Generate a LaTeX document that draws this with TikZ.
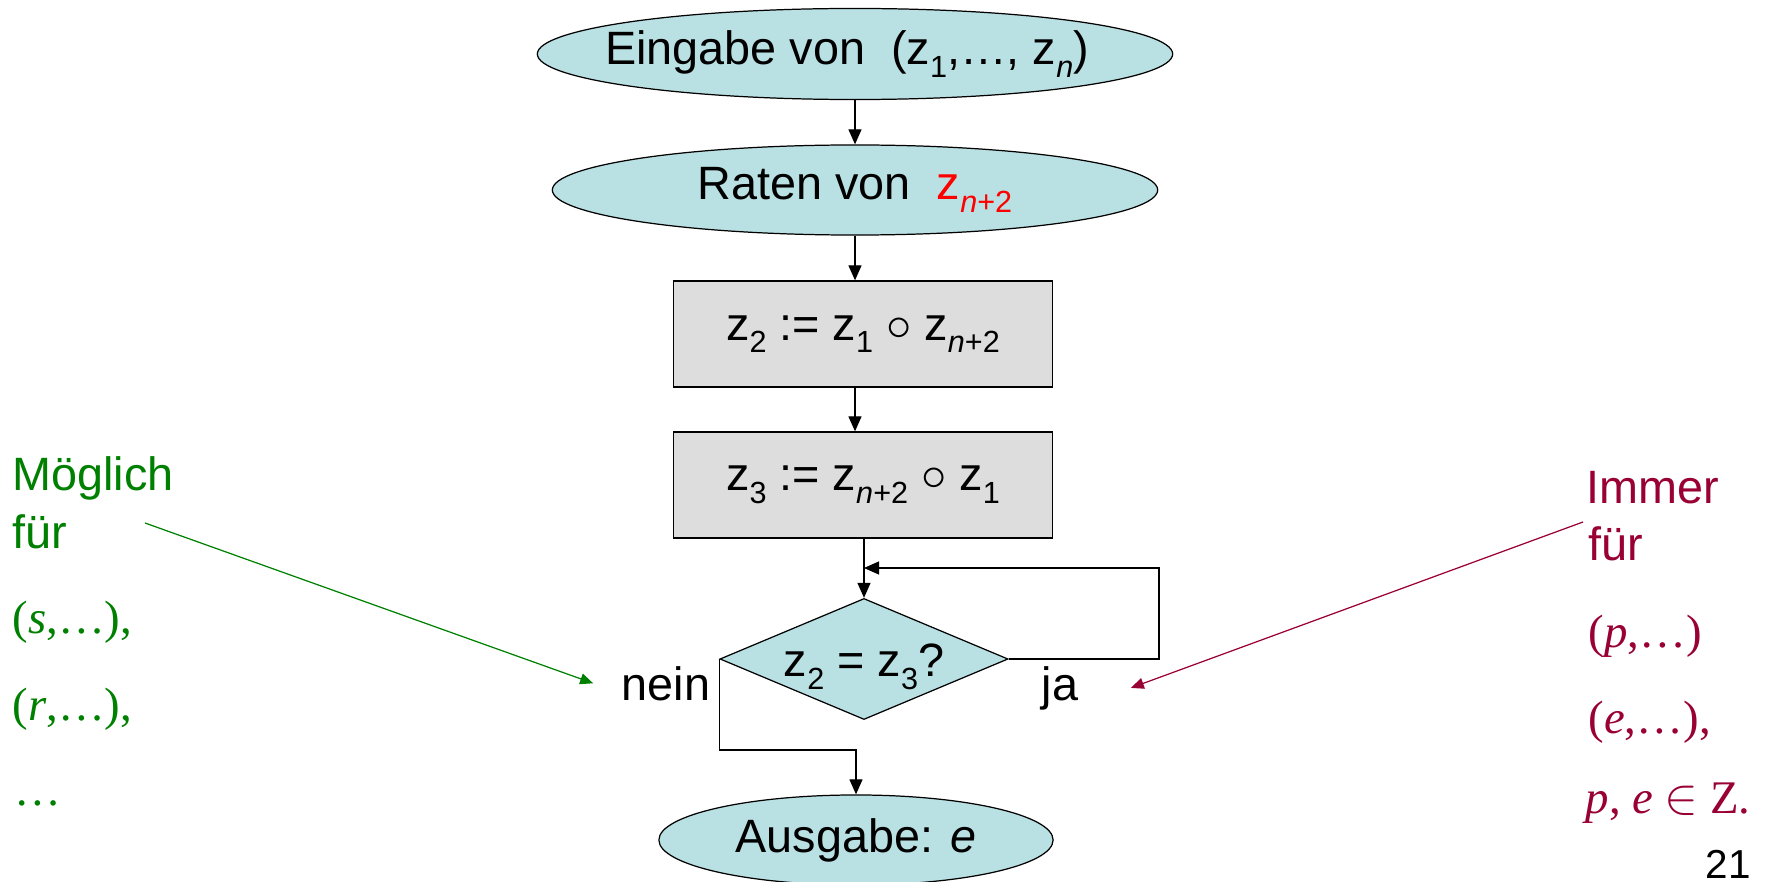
\documentclass[tikz,border=0pt]{standalone}
\usepackage{fontspec}
\setmainfont{Liberation Sans}
\newfontfamily\tms{Liberation Serif}
\usepackage{xcolor}
\usepackage{tikz}
\usetikzlibrary{shapes.geometric,arrows.meta}

\definecolor{flowblue}{RGB}{185,224,227}
\definecolor{flowgray}{RGB}{221,221,221}
\definecolor{maybegreen}{RGB}{0,128,0}
\definecolor{alwaysred}{RGB}{153,0,51}

% tiefgestellter Index
\newcommand{\idx}[1]{\raisebox{-0.27em}{\fontsize{8.7}{9}\selectfont #1}}

\begin{document}
\begin{tikzpicture}[x=0.01cm,y=-0.01cm,line width=0.35pt,
  font=\fontsize{13.3}{16}\selectfont,
  >={Triangle[length=0.15cm,width=0.13cm]},
  io/.style={draw,fill=flowblue,ellipse,inner sep=0pt},
  proc/.style={draw,fill=flowgray,rectangle,inner sep=0pt,minimum width=3.79cm,minimum height=1.06cm},
  decision/.style={draw,fill=flowblue,diamond,inner sep=0pt,minimum width=2.88cm,minimum height=1.21cm},
  txt/.style={inner sep=0pt,anchor=base west},
  hint/.style={->,>={Triangle[length=0.13cm,width=0.11cm]}}]
  \useasboundingbox (0,0) rectangle (1778,882);

  % Ablauf
  \node[io,minimum width=6.35cm,minimum height=0.91cm,
    label={[xshift=-0.08cm]center:{Eingabe von\ \ (z\idx{1},…, z\idx{\textit{n}})}}] (in) at (855,54) {};
  \node[io,minimum width=6.05cm,minimum height=0.9cm,
    label={center:{Raten von\ \ {\color{red}z\idx{\textit{n}+2}}}}] (guess) at (855,190) {};
  \node[proc] (mix) at (863,334) {z\idx{2} := z\idx{1} $\circ$ z\idx{\textit{n}+2}};
  \node[proc] (mixback) at (863,485) {z\idx{3} := z\idx{\textit{n}+2} $\circ$ z\idx{1}};
  \node[decision,label={[yshift=-0.08cm]center:{z\idx{2} = z\idx{3}?}}] (cmp) at (864,659) {};
  \node[io,minimum width=3.94cm,minimum height=0.9cm,
    label={center:{Ausgabe: \textit{e}}}] (out) at (856,840) {};

  \node[anchor=base,inner sep=0pt] (no) at (666,700) {nein};
  \node[anchor=base,inner sep=0pt] (yes) at (1060,700) {ja};
  \coordinate (back) at (1159,568);

  \draw[->] (in) -- (guess);
  \draw[->] (guess) -- (guess |- mix.north);
  \draw[->] (mix.south -| guess) -- (mixback.north -| guess);
  \draw[->] (mixback.south -| cmp) -- (cmp.north);
  \draw[->] (cmp.east) -| (back) -- (back -| cmp.north);
  \draw[->] (cmp.west) -- ++(0,91) -| (out.north);

  % links: moeglich
  \node[txt,maybegreen] (m1) at (12,490) {Möglich};
  \node[txt,maybegreen] (m2) at (12,548) {für};
  \node[txt,maybegreen] (m3) at (12,633) {\tms(\textit{s},…),};
  \node[txt,maybegreen] (m4) at (12,720) {\tms(\textit{r},…),};
  \node[txt,maybegreen] (m5) at (14,805) {\tms…};
  \coordinate (gfrom) at (145,523);
  \draw[hint,maybegreen] (gfrom) -- ([xshift=-0.28cm]no.west);

  % rechts: immer
  \node[txt,alwaysred] (a1) at (1586,503) {Immer};
  \node[txt,alwaysred] (a2) at (1588,560) {für};
  \node[txt,alwaysred] (a3) at (1588,647) {\tms(\textit{p},…)};
  \node[txt,alwaysred] (a4) at (1588,733) {\tms(\textit{e},…),};
  \node[txt,alwaysred] (a5) at (1585,813) {\tms\textit{p}, \textit{e} $\in$ Z.};
  \coordinate (rfrom) at (1583,522);
  \draw[hint,alwaysred] (rfrom) -- ([xshift=0.52cm]yes.east);

  \node[txt,font=\fontsize{11.5}{14}\selectfont] (page) at (1705,878) {21};
\end{tikzpicture}
\end{document}
